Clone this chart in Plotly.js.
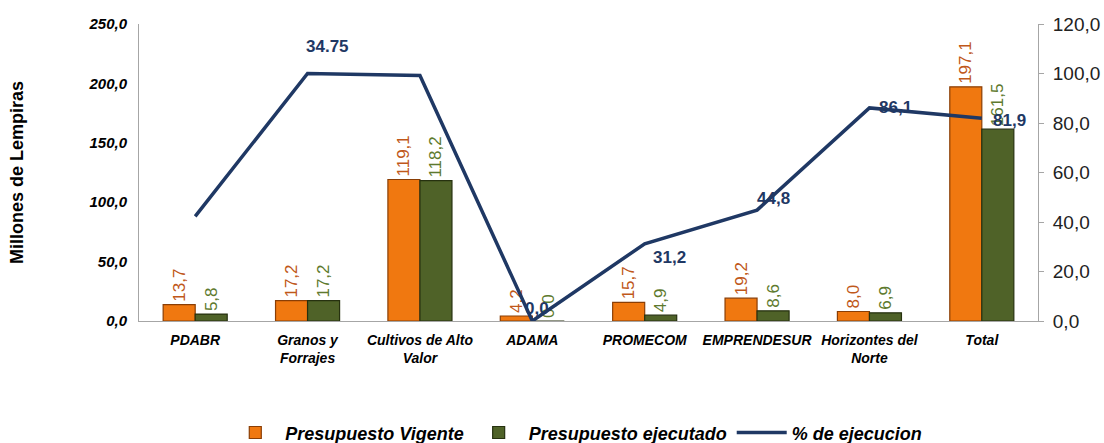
<!DOCTYPE html>
<html>
<head>
<meta charset="utf-8">
<script src="https://cdn.plot.ly/plotly-3.0.1.min.js"></script>
<style>html,body{margin:0;padding:0;background:#fff;}#chart{width:1104px;height:443px;}</style>
</head>
<body>
<div id="chart"></div>
<script>
const categories = ["PDABR", "Granos y<br>Forrajes", "Cultivos de Alto<br>Valor", "ADAMA", "PROMECOM", "EMPRENDESUR", "Horizontes del<br>Norte", "Total"];
const presupuestoVigente = [13.7, 17.2, 119.1, 4.2, 15.7, 19.2, 8.0, 197.1];
const presupuestoEjecutado = [5.8, 17.2, 118.2, 0.0, 4.9, 8.6, 6.9, 161.5];
const porcentajeEjecucion = [42.3, 100.0, 99.2, 0.0, 31.2, 44.8, 86.1, 81.9];
const lineLabels = ["", "34.75", "", "0,0", "31,2", "44,8", "86,1", "81,9"];
const leftTicks = [0, 50, 100, 150, 200, 250];
const rightTicks = [0, 20, 40, 60, 80, 100, 120];

const narrow = "Liberation Sans Narrow, Liberation Sans, Arial, sans-serif";
const sans = "Liberation Sans, Arial, sans-serif";

const traces = [
  {
    type: "bar", name: "Presupuesto Vigente", x: categories, y: presupuestoVigente,
    marker: {color: "#F07810", line: {color: "#8A3E05", width: 1.2}},
    text: presupuestoVigente.map(v => v.toFixed(1).replace(".", ",")),
    textposition: "outside", textangle: -90, cliponaxis: false, constraintext: "none",
    textfont: {family: sans, size: 17, color: "#C0581A"},
    hoverinfo: "skip"
  },
  {
    type: "bar", name: "Presupuesto ejecutado", x: categories, y: presupuestoEjecutado,
    marker: {color: "#4F6228", line: {color: "#26310F", width: 1.2}},
    text: presupuestoEjecutado.map(v => v.toFixed(1).replace(".", ",")),
    textposition: "outside", textangle: -90, cliponaxis: false, constraintext: "none",
    textfont: {family: sans, size: 17, color: "#5E7A2E"},
    hoverinfo: "skip"
  },
  {
    type: "scatter", mode: "lines", name: "% de ejecucion", x: categories, y: porcentajeEjecucion,
    yaxis: "y2", line: {color: "#1F3864", width: 3.5}, cliponaxis: false, hoverinfo: "skip"
  }
];

// pixel offsets for line labels (layout only)
const shifts = [[0,0],[20,27],[0,0],[5,13],[25,-14],[16,12],[26,0],[28,-2]];
const annotations = lineLabels.map((t, i) => ({
  x: categories[i], y: porcentajeEjecucion[i], xref: "x", yref: "y2",
  text: t, showarrow: false, xshift: shifts[i][0], yshift: shifts[i][1],
  font: {family: sans, size: 17, color: "#1F3864", weight: "bold"}
})).filter(a => a.text !== "");

const layout = {
  width: 1104, height: 443,
  margin: {l: 139, r: 66, t: 24, b: 122},
  paper_bgcolor: "#fff", plot_bgcolor: "#fff",
  separators: ",.",
  barmode: "group", bargap: 0.43, bargroupgap: 0,
  showlegend: true,
  legend: {
    orientation: "h", x: 0.522, xanchor: "center", xref: "container",
    y: 0.023, yanchor: "middle", yref: "container",
    font: {family: narrow, size: 18, color: "#000", weight: "bold", style: "italic"},
    itemwidth: 50, traceorder: "normal"
  },
  xaxis: {
    type: "category", showline: true, linecolor: "#A6A6A6", linewidth: 1,
    ticks: "", showgrid: false, zeroline: false, fixedrange: true, automargin: false,
    ticklabelstandoff: 6, tickangle: 0,
    tickfont: {family: narrow, size: 14, color: "#000", weight: "bold", style: "italic"}
  },
  yaxis: {
    range: [0, 250], tickvals: leftTicks, tickformat: ".1f", automargin: false,
    showline: true, linecolor: "#A6A6A6", linewidth: 1, ticks: "",
    showgrid: false, zeroline: false, fixedrange: true, ticklabelstandoff: 8,
    tickfont: {family: sans, size: 15, color: "#000", weight: "bold", style: "italic"},
    title: {text: "Millones de Lempiras", standoff: 60,
      font: {family: sans, size: 18, color: "#000", weight: "bold"}}
  },
  yaxis2: {
    overlaying: "y", side: "right", range: [0, 120], tickvals: rightTicks, tickformat: ".1f",
    showline: true, linecolor: "#A6A6A6", linewidth: 1, ticks: "outside", ticklen: 5, tickcolor: "#A6A6A6",
    showgrid: false, zeroline: false, fixedrange: true, automargin: false, ticklabelstandoff: 5,
    tickfont: {family: sans, size: 19, color: "#222"}
  },
  annotations: annotations
};

Plotly.newPlot("chart", traces, layout, {displayModeBar: false, staticPlot: true});
</script>
</body>
</html>
